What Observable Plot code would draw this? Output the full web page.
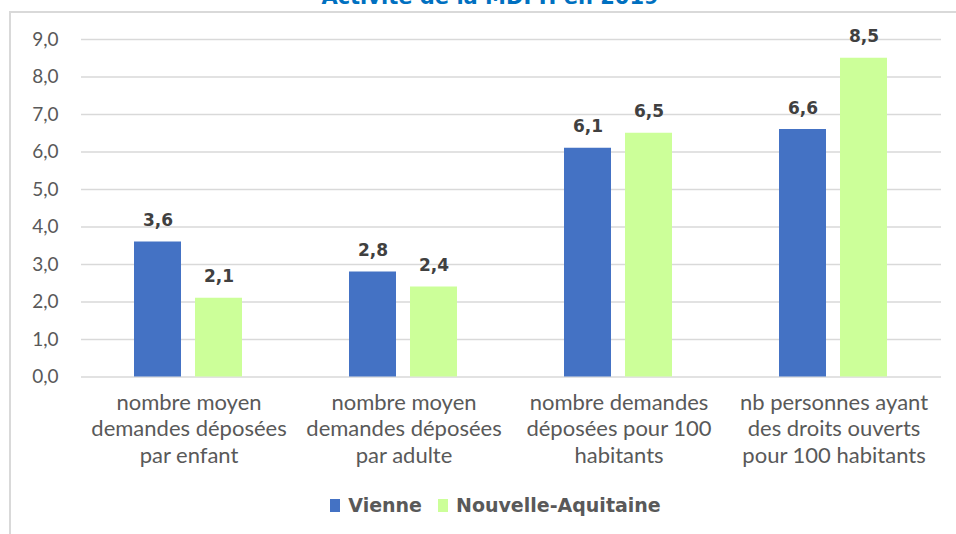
<!DOCTYPE html>
<html>
<head>
<meta charset="utf-8">
<script src="https://cdn.jsdelivr.net/npm/d3@7"></script>
<script src="https://cdn.jsdelivr.net/npm/@observablehq/plot@0.6"></script>
<style>
  html, body { margin: 0; padding: 0; background: #fff; }
  body { width: 956px; height: 534px; overflow: hidden; position: relative; font-family: Lato, "Noto Sans", sans-serif; }
  #title { position: absolute; top: -15px; left: 0; width: 980px; text-align: center; color: #0070C0; font-weight: bold; font-size: 21px; white-space: nowrap; font-family: "DejaVu Sans", sans-serif; }
  #frame { position: absolute; top: 11px; left: 9px; right: -4px; bottom: -4px; border-top: 2px solid #d9d9d9; border-left: 2px solid #d9d9d9; }
  #chart { position: absolute; top: 0; left: 0; }
  #legend { position: absolute; top: 494px; left: 0; width: 991px; display: flex; justify-content: center; align-items: center; font-weight: bold; font-size: 19px; color: #595959; font-family: "DejaVu Sans", sans-serif; }
  .sw { display: inline-block; width: 10px; height: 13px; margin-right: 8px; }
  .item { display: flex; align-items: center; margin: 0 8px; }
</style>
</head>
<body>
<div id="title">Activité de la MDPH en 2019</div>
<div id="frame"></div>
<div id="chart"></div>
<div id="legend"></div>
<script>
const categories = [
  "nombre moyen\ndemandes déposées\npar enfant",
  "nombre moyen\ndemandes déposées\npar adulte",
  "nombre demandes\ndéposées pour 100\nhabitants",
  "nb personnes ayant\ndes droits ouverts\npour 100 habitants"
];
const series = ["Vienne", "Nouvelle-Aquitaine"];
const vienne = [3.6, 2.8, 6.1, 6.6];
const nouvelleAquitaine = [2.1, 2.4, 6.5, 8.5];
const colors = ["#4472C4", "#CCFF99"];
const yTicks = [0, 1, 2, 3, 4, 5, 6, 7, 8, 9];

const data = [];
categories.forEach((c, i) => {
  data.push({category: c, series: series[0], value: vienne[i]});
  data.push({category: c, series: series[1], value: nouvelleAquitaine[i]});
});

const fmt = d => d.toFixed(1).replace(".", ",");

const chart = Plot.plot({
  width: 956,
  height: 480,
  marginTop: 39,
  marginBottom: 103.5,
  marginLeft: 80,
  marginRight: 14,
  style: {fontFamily: "Lato, 'Noto Sans', sans-serif", background: "transparent"},
  fx: {domain: categories, padding: 0, label: null},
  x: {domain: series, paddingInner: 0.226, paddingOuter: 0.855, axis: null},
  y: {domain: [0, 9], label: null},
  color: {domain: series, range: colors},
  marks: [
    Plot.gridY(yTicks, {stroke: "#d9d9d9", strokeOpacity: 1, strokeWidth: 1.6}),
    Plot.barY(data, {fx: "category", x: "series", y: "value", fill: "series"}),
    Plot.text(data, {fx: "category", x: "series", y: "value", text: d => fmt(d.value), dy: -16, lineAnchor: "bottom", fontWeight: "bold", fontSize: 17, fontFamily: "'DejaVu Sans', sans-serif", fill: "#404040"}),
    Plot.axisY({ticks: yTicks, tickFormat: fmt, tickSize: 0, tickPadding: 23, fontSize: 19, fill: "#595959", label: null}),
    Plot.axisFx({anchor: "bottom", tickSize: 0, tickPadding: 14, fontSize: 22, lineHeight: 1.2, fill: "#595959", label: null})
  ]
});
document.getElementById("chart").appendChild(chart);

const legend = document.getElementById("legend");
series.forEach((s, i) => {
  const item = document.createElement("span");
  item.className = "item";
  const sw = document.createElement("span");
  sw.className = "sw";
  sw.style.background = colors[i];
  item.appendChild(sw);
  item.appendChild(document.createTextNode(s));
  legend.appendChild(item);
});
</script>
</body>
</html>
